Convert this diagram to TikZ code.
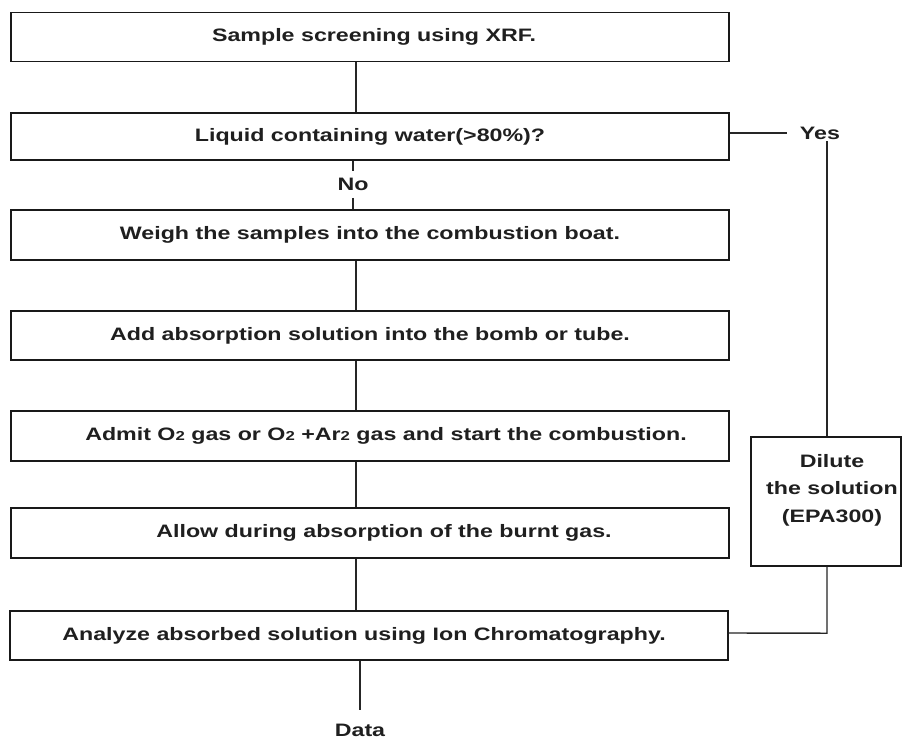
\documentclass[tikz,border=0pt]{standalone}
\usepackage{fontspec}
\setmainfont{Liberation Sans}
\usepackage{graphicx}
\newcommand{\wide}[1]{\scalebox{1.29}[1]{#1}}
\newcommand{\smalltwo}{{\fontsize{13}{13}\selectfont 2}}
\tikzset{
  box/.style={draw=black!90, line width=1.4pt, rectangle, minimum width=718pt, minimum height=49pt, inner sep=0pt},
  txt/.style={font=\bfseries\fontsize{18}{27.5}\selectfont, text=black!88, inner sep=0pt, align=center},
  conn/.style={draw=black!85, line width=1.4pt},
}
\begin{document}
\begin{tikzpicture}[x=1pt,y=-1pt]
\useasboundingbox (0,0) rectangle (902,740);
\fill[white] (0,0) rectangle (902,740);
% boxes
\node[box] (b1) at (370,37) {};
\node[box, minimum height=47pt] (b2) at (370,136.5) {};
\node[box, minimum height=50pt] (b3) at (370,235) {};
\node[box] (b4) at (370,335.5) {};
\node[box, minimum height=50pt] (b5) at (370,436) {};
\node[box, minimum height=50pt] (b6) at (370,533) {};
\node[box] (b7) at (369,635.5) {};
\node[box, minimum width=150pt, minimum height=129pt] (dil) at (826,501.5) {};
% texts
\node[txt] (t1) at (374,37) {\wide{Sample screening using XRF.}};
\node[txt] (t2) at (370,136.5) {\wide{Liquid containing water(>80\%)?}};
\node[txt] (t3) at (370,235) {\wide{Weigh the samples into the combustion boat.}};
\node[txt] (t4) at (370,335.5) {\wide{Add absorption solution into the bomb or tube.}};
\node[txt] (t5) at (386,436) {\wide{Admit O\smalltwo{} gas or O\smalltwo{} +Ar\smalltwo{} gas and start the combustion.}};
\node[txt] (t6) at (384,533) {\wide{Allow during absorption of the burnt gas.}};
\node[txt] (t7) at (364,635.5) {\wide{Analyze absorbed solution using Ion Chromatography.}};
\node[txt] (t8) at (832,490) {\wide{Dilute}\\\wide{the solution}\\\wide{(EPA300)}};
% labels
\node[txt, inner xsep=2pt, inner ysep=7pt] (no) at (353,184.5) {\wide{No}};
\node[txt, inner xsep=13pt, inner ysep=2pt] (yes) at (820,133) {\wide{Yes}};
\node[txt, anchor=north, inner sep=0pt] (data) at (360,724) {\wide{Data}};
% columns
\coordinate (spine) at (356,0);
\coordinate (ycol) at (827,0);
\coordinate (dcol) at (360,0);
% connectors
\draw[conn] (b1.south -| spine) -- (b2.north -| spine);
\draw[conn] (b2.south -| no) -- (no.north);
\draw[conn] (no.south) -- (b3.north -| no);
\draw[conn] (b3.south -| spine) -- (b4.north -| spine);
\draw[conn] (b4.south -| spine) -- (b5.north -| spine);
\draw[conn] (b5.south -| spine) -- (b6.north -| spine);
\draw[conn] (b6.south -| spine) -- (b7.north -| spine);
\draw[conn] (b7.south -| dcol) -- ([yshift=14pt]data.north -| dcol);
\draw[conn] (b2.east |- yes.west) -- (yes.west);
\draw[conn] (yes.south -| ycol) -- (dil.north -| ycol);
\draw[conn] (dil.south -| ycol) -- ++(0,66.5) -- (b7.east |- 0,633);
\end{tikzpicture}
\end{document}
